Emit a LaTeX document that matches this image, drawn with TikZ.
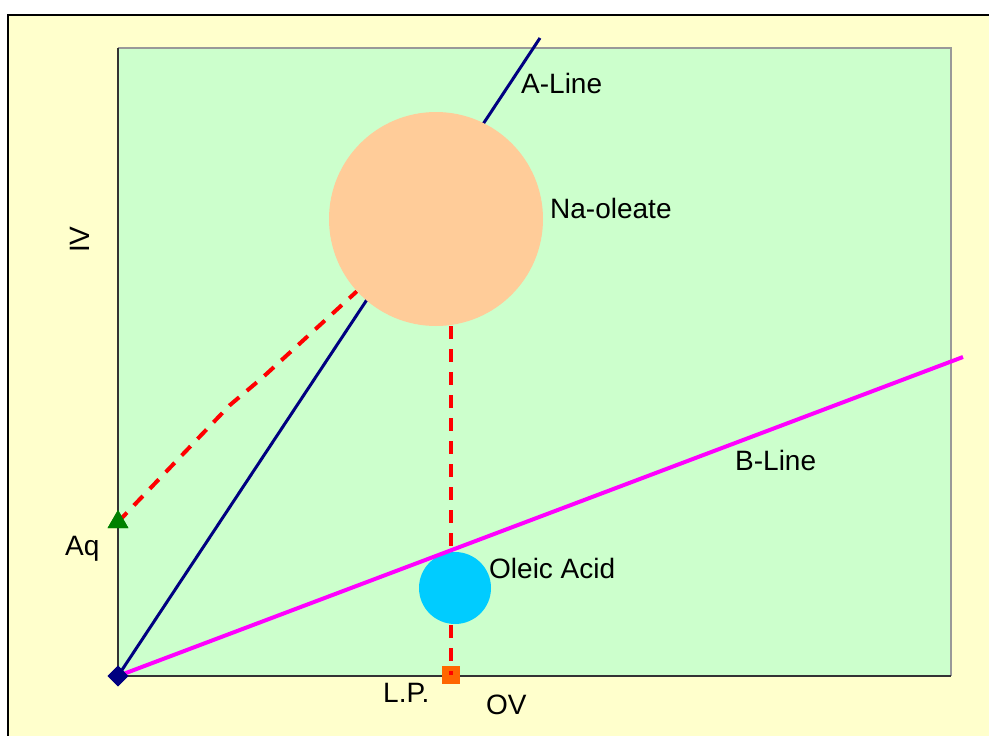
\documentclass[tikz,border=0pt]{standalone}
\usepackage{fontspec}
\setmainfont{Liberation Sans}
\usetikzlibrary{shapes.geometric}
\definecolor{bgyellow}{HTML}{FFFFCC}
\definecolor{plotgreen}{HTML}{CCFFCC}
\definecolor{navyc}{HTML}{000080}
\definecolor{magc}{HTML}{FF00FF}
\definecolor{redc}{HTML}{FF0000}
\definecolor{orangec}{HTML}{FF6600}
\definecolor{greenc}{HTML}{008000}
\definecolor{peachc}{HTML}{FFCC99}
\definecolor{cyanc}{HTML}{00CCFF}
\definecolor{grayc}{HTML}{999999}
\tikzset{
  lbl/.style={anchor=base west, inner sep=0pt, font=\fontsize{28}{32}\selectfont},
  reddash/.style={draw=redc, line width=4pt, dash pattern=on 13pt off 10pt},
  aline/.style={draw=navyc, line width=3pt},
  bline/.style={draw=magc, line width=4pt},
}
\begin{document}
\begin{tikzpicture}[x=1pt,y=-1pt]
\useasboundingbox (0,0) rectangle (989,736);
% backgrounds
\fill[white] (0,0) rectangle (989,736);
\fill[bgyellow] (8,15) rectangle (992,740);
\draw[black, line width=2pt] (8,740) -- (8,15) -- (992,15);
\fill[plotgreen] (118,48) rectangle (951,676);
\draw[grayc, line width=2pt] (118,48) -- (951,48) -- (951,676);
\draw[black!80, line width=1.5pt] (118,48) -- (118,676) -- (951,676);
% point nodes
\coordinate (aend) at (540,38);
\coordinate (bend) at (963,357);
\node[diamond, fill=navyc, inner sep=0pt, minimum width=21pt, minimum height=21pt] (o) at (118,676) {};
\node[regular polygon, regular polygon sides=3, fill=greenc, inner sep=0pt, minimum size=24pt] (aq) at (118,522) {};
\node[rectangle, fill=orangec, inner sep=0pt, minimum size=18pt] (lp) at (451,675) {};
\node[circle, inner sep=0pt, minimum size=214pt] (na) at (436,219) {};
\node[circle, inner sep=0pt, minimum size=72pt] (oa) at (455,588) {};
% lines
\draw[aline] (o.center) -- (aend);
\draw[reddash] (na.south -| lp.center) -- (lp.center);
\draw[reddash] (aq.center) -- (230,405) -- (262,378) -- (na);
\fill[peachc] (na.center) circle (107pt);
\fill[cyanc] (oa.center) circle (36pt);
\draw[bline] (o.center) -- (bend);
% redraw markers on top
\node[diamond, fill=navyc, inner sep=0pt, minimum width=21pt, minimum height=21pt] at (o) {};
\node[regular polygon, regular polygon sides=3, fill=greenc, inner sep=0pt, minimum size=24pt] at (aq) {};
% labels
\node[lbl] (la) at (521,93) {A-Line};
\node[lbl] (lna) at (550,218) {Na-oleate};
\node[lbl] (lb) at (735,470) {B-Line};
\node[lbl] (loa) at (489,578) {Oleic Acid};
\node[lbl] (laq) at (65,555) {Aq};
\node[lbl] (llp) at (383,702) {L.P.};
\node[lbl] (lov) at (486,714) {OV};
\node[lbl, rotate=90] (liv) at (89,253) {IV};
\end{tikzpicture}
\end{document}
